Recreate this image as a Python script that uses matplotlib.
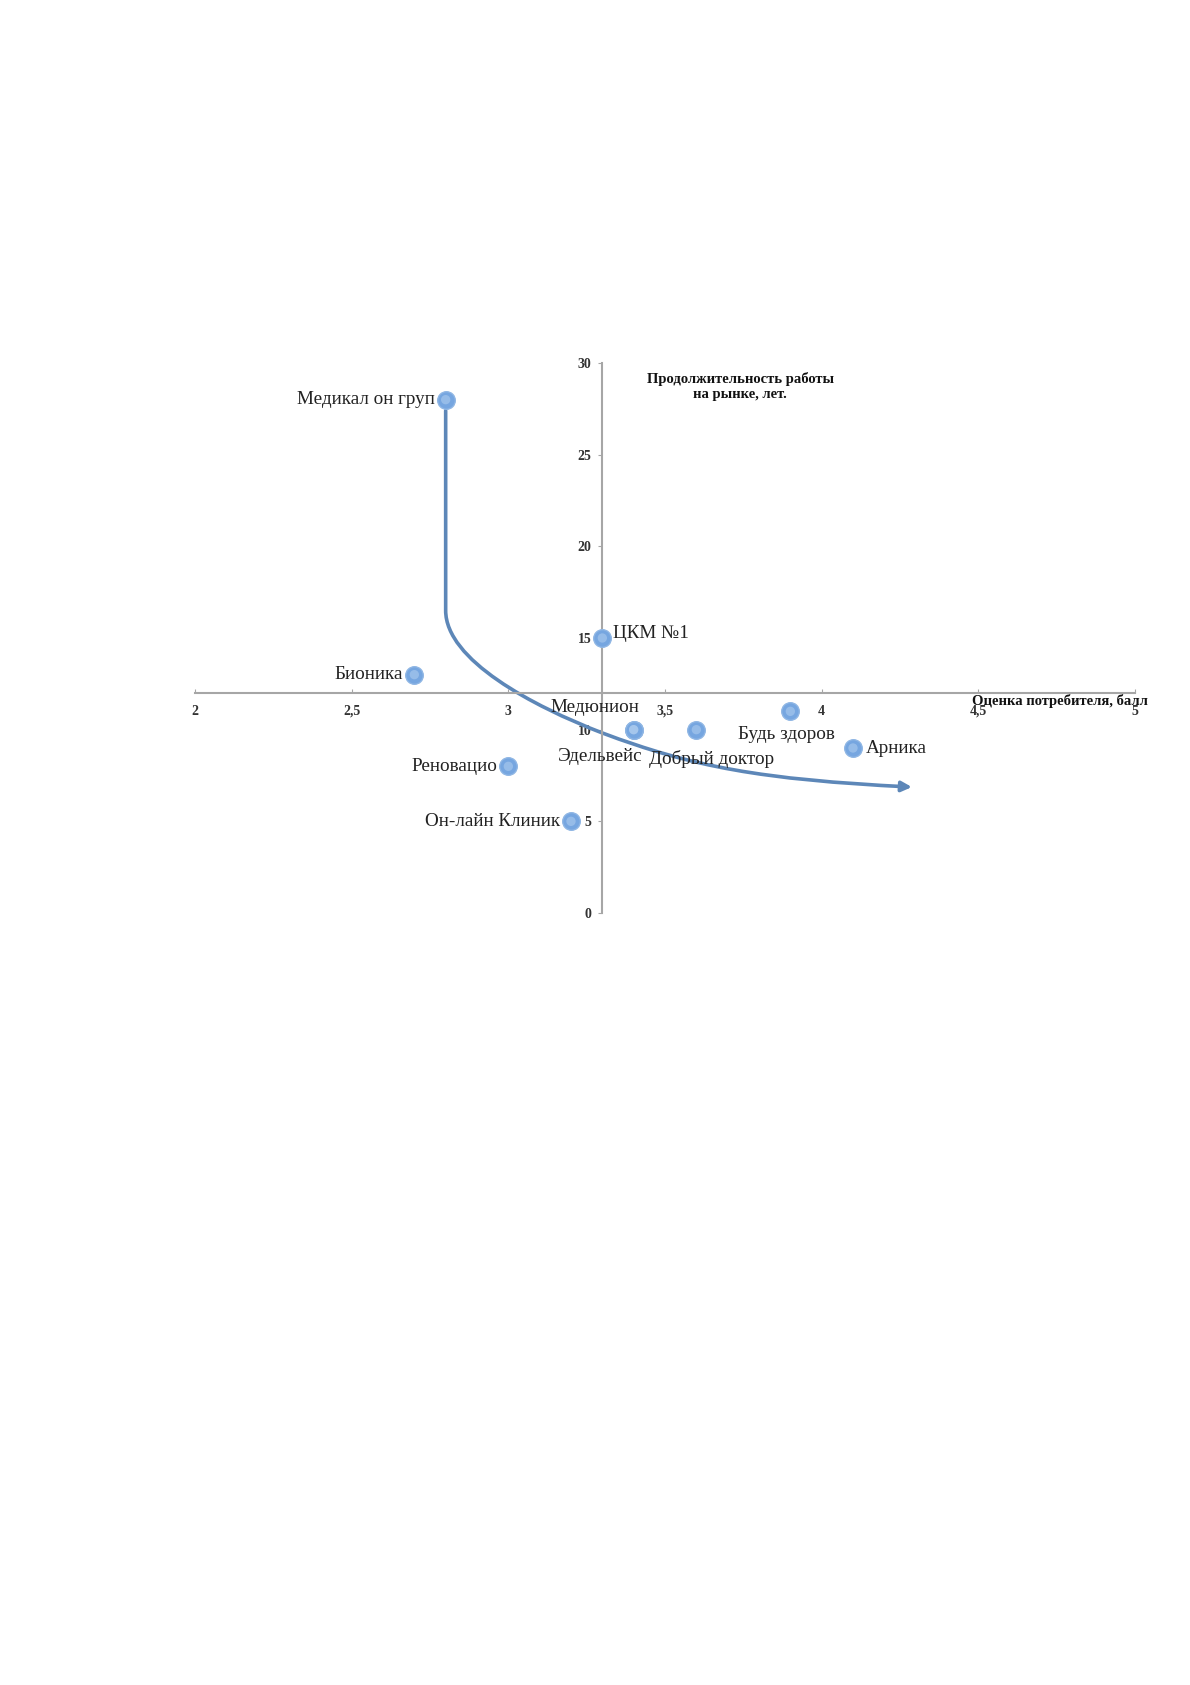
import matplotlib
matplotlib.use("Agg")
import matplotlib.pyplot as plt
from matplotlib.path import Path
from matplotlib.patches import FancyArrowPatch

plt.rcParams['font.family'] = ['Liberation Serif', 'DejaVu Serif']

# ---- data ----
names = ["Медикал он груп", "Бионика", "ЦКМ №1", "Реновацио", "Он-лайн Клиник",
         "Медюнион", "Эдельвейс", "Добрый доктор", "Будь здоров", "Арника"]
score = [2.8, 2.7, 3.3, 3.0, 3.2, 3.4, 3.4, 3.6, 3.9, 4.1]
years = [28, 13, 15, 8, 5, 10, 10, 10, 11, 9]

x_ticks = [2, 2.5, 3, 3.5, 4, 4.5, 5]
x_tick_labels = ["2", "2,5", "3", "3,5", "4", "4,5", "5"]
y_ticks = [0, 5, 10, 15, 20, 25, 30]
y_tick_labels = ["0", "5", "10", "15", "20", "25", "30"]

# trend arrow (decorative curve), data coordinates
trend_x = [2.8, 2.8, 2.8, 3.077, 3.300, 3.588, 3.808, 4.288]
trend_y = [27.4, 16.5, 13.8, 11.29, 9.82, 7.97, 7.28, 6.87]

x_title = "Оценка потребителя, балл"
y_title = "Продолжительность работы\nна рынке, лет."

# label offsets in points (dx, dy, ha)
label_pos = [(-8, 0, 'right'), (-8, 0, 'right'), (8, 3, 'left'), (-8, 0, 'right'),
             (-8, 0, 'right'), (-28, 16, 'center'), (-24, -19, 'center'),
             (11, -21, 'center'), (-3, -17, 'center'), (9, 0, 'left')]

fig = plt.figure(figsize=(11.9, 16.85), dpi=100)
ax = fig.add_axes([195 / 1190, 772 / 1685, 940 / 1190, 550 / 1685])
ax.set_xlim(2, 5)
ax.set_ylim(0, 30)

for s in ['top', 'right']:
    ax.spines[s].set_visible(False)
ax.spines['left'].set_position(('data', 3.3))
ax.spines['bottom'].set_position(('data', 12))
for s in ['left', 'bottom']:
    ax.spines[s].set_color('#a6a6a6')
    ax.spines[s].set_linewidth(1.5)

ax.set_xticks(x_ticks)
ax.set_xticklabels(x_tick_labels)
ax.set_yticks(y_ticks)
ax.set_yticklabels(y_tick_labels)
ax.tick_params(axis='x', direction='in', length=3, color='#a6a6a6', pad=8.5,
               labelsize=10, labelcolor='#333333')
ax.tick_params(axis='y', direction='out', length=3, color='#a6a6a6', pad=5,
               labelsize=10, labelcolor='#333333')
for lab in ax.get_xticklabels() + ax.get_yticklabels():
    lab.set_fontweight('bold')

# trend curve
codes = [Path.MOVETO, Path.LINETO, Path.CURVE4, Path.CURVE4, Path.CURVE4,
         Path.CURVE4, Path.CURVE4, Path.CURVE4]
path = Path(list(zip(trend_x, trend_y)), codes)
arrow = FancyArrowPatch(path=path, arrowstyle='-|>,head_length=6,head_width=3',
                        color='#5d87b8', linewidth=2.6, zorder=2,
                        transform=ax.transData)
ax.add_patch(arrow)

# points
ax.scatter(score, years, s=160, facecolor='#76a6e0', edgecolor='#8fb6e4',
           linewidth=1.0, zorder=3)
ax.scatter(score, years, s=45, facecolor='#b2cff0', edgecolor='none',
           zorder=4, alpha=0.55)

for n, x, y, (dx, dy, ha) in zip(names, score, years, label_pos):
    ax.annotate(n, (x, y), xytext=(dx, dy), textcoords='offset points',
                ha=ha, va='center', fontsize=13.8, color='#222222', zorder=5)

ax.text(3.74, 29.5, y_title, ha='center', va='top', fontsize=10.5,
        fontweight='bold', color='#111111', linespacing=1.2)
ax.annotate(x_title, (5.04, 12), xytext=(0, -0.5), textcoords='offset points',
            ha='right', va='top', fontsize=10.5, fontweight='bold',
            color='#111111', annotation_clip=False)

fig.savefig('out.png', dpi=100, facecolor='white')
